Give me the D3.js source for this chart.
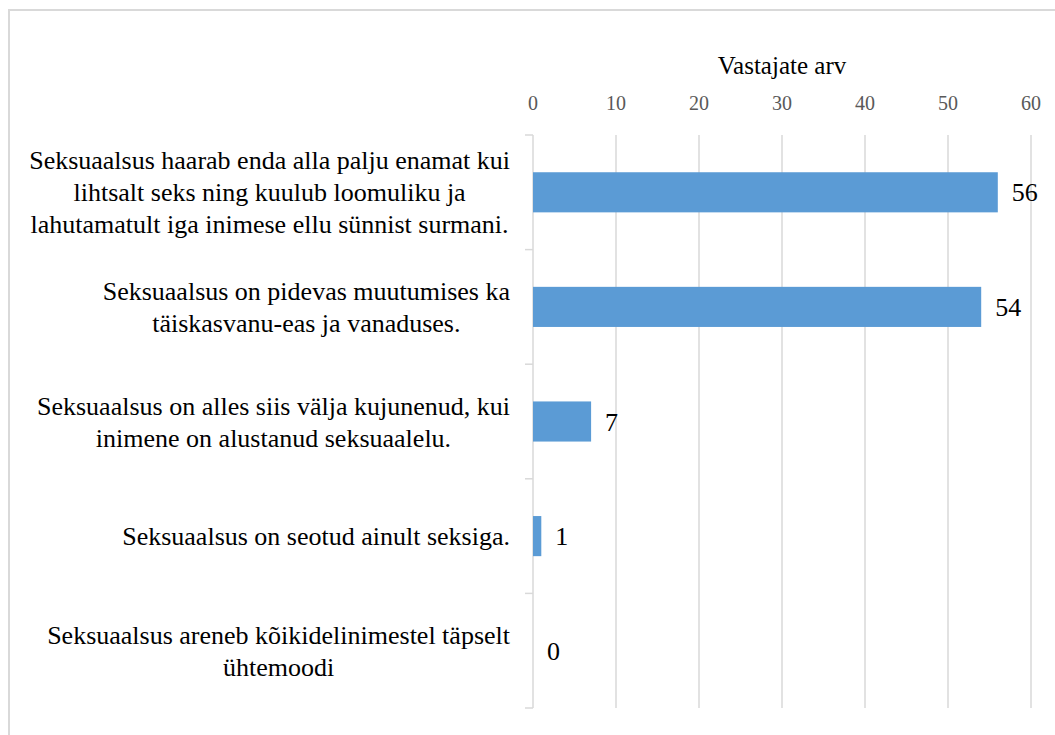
<!DOCTYPE html>
<html lang="en">
<head>
<meta charset="utf-8">
<title>Vastajate arv</title>
<script src="https://d3js.org/d3.v7.min.js"></script>
<style>
    body { margin: 0; background: #fff; }
</style>
</head>
<body>
<div id="chart"></div>
<script>
    // statements (wrapped lines as in the original)
    var categories = [
        ["Seksuaalsus haarab enda alla palju enamat kui", "lihtsalt seks ning kuulub loomuliku ja", "lahutamatult iga inimese ellu sünnist surmani."],
        ["Seksuaalsus on pidevas muutumises ka", "täiskasvanu-eas ja vanaduses."],
        ["Seksuaalsus on alles siis välja kujunenud, kui", "inimene on alustanud seksuaalelu."],
        ["Seksuaalsus on seotud ainult seksiga."],
        ["Seksuaalsus areneb kõikidelinimestel täpselt", "ühtemoodi"]
    ];
    var values = [56, 54, 7, 1, 0];
    var xTicks = [0, 10, 20, 30, 40, 50, 60];
    var axisTitle = "Vastajate arv";

    var W = 1055, H = 735;
    var font = "Liberation Serif";
    var plot = {left: 533, right: 1031, top: 135, bottom: 708};

    var svg = d3.select("#chart").append("svg")
        .attr("width", W).attr("height", H);

    // outer frame
    svg.append("path")
        .attr("d", "M9," + H + "V10H" + W)
        .attr("fill", "none").attr("stroke", "#d9d9d9").attr("stroke-width", 2);

    var x = d3.scaleLinear().domain([0, 60]).range([plot.left, plot.right]);
    var y = d3.scaleBand().domain(d3.range(values.length))
        .range([plot.top, plot.bottom]).paddingInner(0.65).paddingOuter(0.325);

    // vertical gridlines
    svg.append("g")
        .selectAll("line").data(xTicks.slice(1)).enter().append("line")
        .attr("x1", function(d) { return x(d); }).attr("x2", function(d) { return x(d); })
        .attr("y1", plot.top).attr("y2", plot.bottom)
        .attr("stroke", "#d9d9d9").attr("stroke-width", 1.5);

    // category axis with ticks between bands
    var seps = d3.range(values.length + 1).map(function(i) { return plot.top + i * (plot.bottom - plot.top) / values.length; });
    var cat = svg.append("g").attr("stroke", "#d9d9d9").attr("stroke-width", 1.5);
    cat.append("line").attr("x1", plot.left).attr("x2", plot.left).attr("y1", plot.top).attr("y2", plot.bottom);
    cat.selectAll(".sep").data(seps).enter().append("line").attr("class", "sep")
        .attr("x1", plot.left - 8).attr("x2", plot.left)
        .attr("y1", function(d) { return d; }).attr("y2", function(d) { return d; });

    // x tick labels on top
    svg.selectAll(".tick-lbl").data(xTicks).enter().append("text")
        .attr("class", "tick-lbl")
        .attr("x", function(d) { return x(d); })
        .attr("y", 110)
        .attr("text-anchor", "middle")
        .attr("font-family", font)
        .attr("font-size", 20)
        .attr("fill", "#595959")
        .text(function(d) { return d; });

    svg.append("text")
        .attr("x", x(30)).attr("y", 74)
        .attr("text-anchor", "middle")
        .attr("font-family", font)
        .attr("font-size", 25)
        .attr("fill", "#000")
        .text(axisTitle);

    // bars
    svg.selectAll(".bar").data(values).enter().append("rect")
        .attr("class", "bar")
        .attr("x", x(0))
        .attr("y", function(d, i) { return y(i); })
        .attr("width", function(d) { return x(d) - x(0); })
        .attr("height", y.bandwidth())
        .attr("fill", "#5b9bd5");

    // value labels
    svg.selectAll(".val-lbl").data(values).enter().append("text")
        .attr("class", "val-lbl")
        .attr("x", function(d) { return x(d) + 14; })
        .attr("y", function(d, i) { return y(i) + y.bandwidth() / 2; })
        .attr("dy", "0.35em")
        .attr("font-family", font)
        .attr("font-size", 26)
        .attr("fill", "#000")
        .text(function(d) { return d; });

    // category labels: lines centred within a right-aligned block
    var lineH = 32, rightEdge = 510;
    categories.forEach(function(lines, i) {
        var cy = y(i) + y.bandwidth() / 2;
        var t = svg.append("g").selectAll("text").data(lines).enter().append("text")
            .attr("y", function(d, j) { return cy + (j - (lines.length - 1) / 2) * lineH; })
            .attr("dy", "0.35em")
            .attr("text-anchor", "middle")
            .attr("font-family", font)
            .attr("font-size", 26)
            .attr("fill", "#000")
            .text(function(d) { return d; });
        var maxW = d3.max(t.nodes(), function(n) { return n.getComputedTextLength(); });
        t.attr("x", rightEdge - maxW / 2);
    });
</script>
</body>
</html>
